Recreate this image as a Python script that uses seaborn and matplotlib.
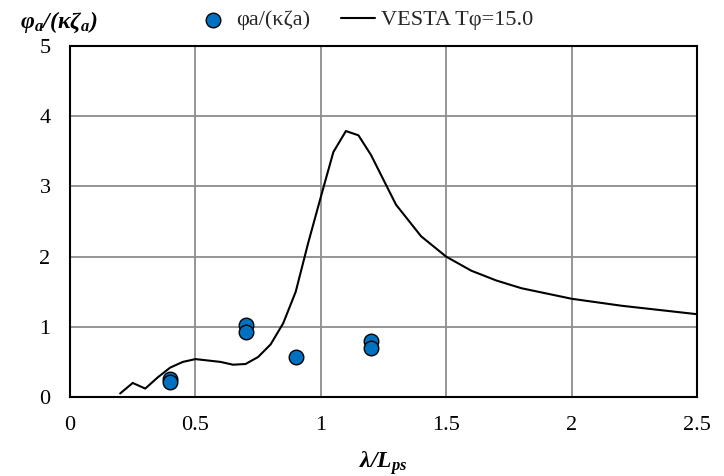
import numpy as np
import pandas as pd
import seaborn as sns
import matplotlib
matplotlib.use("Agg")
import matplotlib.pyplot as plt

exp_x = [0.4, 0.4, 0.7, 0.7, 0.9, 1.2, 1.2]
exp_y = [0.26, 0.22, 1.03, 0.92, 0.57, 0.80, 0.70]

vesta_x = [0.2, 0.25, 0.3, 0.35, 0.4, 0.45, 0.5, 0.55, 0.6, 0.65, 0.7, 0.75, 0.8, 0.85,
           0.9, 0.95, 1.0, 1.05, 1.1, 1.15, 1.2, 1.3, 1.4, 1.5, 1.6, 1.7, 1.8, 2.0, 2.2, 2.5]
vesta_y = [0.05, 0.2, 0.12, 0.28, 0.42, 0.50, 0.54, 0.52, 0.50, 0.46, 0.47, 0.57, 0.75, 1.05,
           1.5, 2.2, 2.85, 3.49, 3.79, 3.73, 3.45, 2.74, 2.29, 2.0, 1.8, 1.66, 1.55, 1.4, 1.3, 1.18]

sns.set_theme(style="whitegrid")
plt.rcParams['font.family'] = ['Liberation Serif', 'DejaVu Serif']
plt.rcParams['mathtext.fontset'] = 'custom'
plt.rcParams['mathtext.rm'] = 'Liberation Serif'
plt.rcParams['mathtext.it'] = 'Liberation Serif:italic'
plt.rcParams['mathtext.bf'] = 'Liberation Serif:bold'
plt.rcParams['mathtext.bfit'] = 'Liberation Serif:bold:italic'

fig = plt.figure(figsize=(7.24, 4.76), dpi=100)
ax = fig.add_axes([0.0967, 0.166, 0.866, 0.737])

df_exp = pd.DataFrame({"x": exp_x, "y": exp_y})
df_v = pd.DataFrame({"x": vesta_x, "y": vesta_y})

sns.lineplot(data=df_v, x="x", y="y", ax=ax, color="black", linewidth=1.5,
             label="VESTA Tφ=15.0", zorder=3)
sns.scatterplot(data=df_exp, x="x", y="y", ax=ax, color="#0070C0", edgecolor="black",
                linewidth=1.0, s=110, label="φa/(κζa)", zorder=4)

ax.set_xlim(0, 2.5)
ax.set_ylim(0, 5)
ax.set_xticks([0, 0.5, 1, 1.5, 2, 2.5])
ax.set_xticklabels(["0", "0.5", "1", "1.5", "2", "2.5"])
ax.set_yticks([0, 1, 2, 3, 4, 5])
ax.tick_params(axis='both', length=0, labelsize=16, colors="black")
ax.tick_params(axis='x', pad=14)
ax.tick_params(axis='y', pad=14)
ax.grid(True, color="#8c8c8c", linewidth=1.3)
for s in ax.spines.values():
    s.set_color("black")
    s.set_linewidth(1.5)
ax.set_xlabel(r"$\mathbfit{\lambda/L_{ps}}$", fontsize=17, color="black", labelpad=10)
ax.set_ylabel("")
fig.text(0.028, 0.953, r"$\mathbfit{\varphi_a/(\kappa\zeta_a)}$", fontsize=17, color="black",
         ha="left", va="center")

handles, labels = ax.get_legend_handles_labels()
order = [labels.index("φa/(κζa)"), labels.index("VESTA Tφ=15.0")]
ax.legend([handles[i] for i in order], [labels[i] for i in order],
          loc="center", bbox_to_anchor=(0.47, 1.074), ncol=2, frameon=False,
          fontsize=16, handlelength=1.5, columnspacing=1.4, handletextpad=0.3,
          borderpad=0.0)

fig.savefig("out.png", dpi=100, facecolor="white")
